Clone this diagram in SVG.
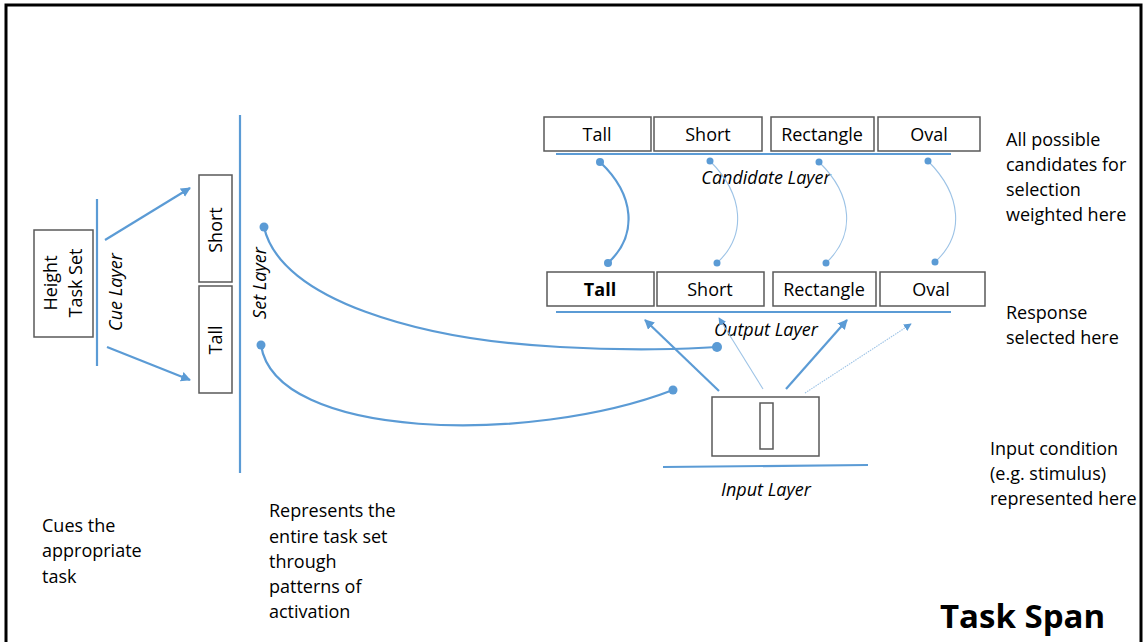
<svg xmlns="http://www.w3.org/2000/svg" width="1144" height="642" viewBox="0 0 1144 642">
<defs>
<style>
.t{font-family:"Open Sans","Noto Sans",sans-serif;font-size:18px;fill:#000}
.i{font-style:italic}
.c{text-anchor:middle}
.b{font-weight:bold}
.title{font-size:33px;font-weight:bold}
.box{fill:#fff;stroke:#595959;stroke-width:1.5}
.ln{stroke:#5B9BD5;stroke-width:2.2;fill:none}
.thin{stroke:#9DC3E6;stroke-width:1.1;fill:none}
.dot{fill:#5B9BD5}
</style>
<marker id="ah" viewBox="0 0 10 10" refX="9" refY="5" markerWidth="7" markerHeight="7" orient="auto" markerUnits="strokeWidth"><path d="M0,0 L10,5 L0,10 z" fill="#5B9BD5"/></marker>
<marker id="ahl" viewBox="0 0 10 10" refX="9" refY="5" markerWidth="4.5" markerHeight="4.5" orient="auto" markerUnits="strokeWidth"><path d="M0,0 L10,5 L0,10 z" fill="#5B9BD5"/></marker>
</defs>
<rect width="1144" height="642" fill="#fff"/>
<path d="M6,650 V5 H1141 V650" fill="none" stroke="#000" stroke-width="3"/>

<g id="height-task-set">
<rect class="box" x="34" y="230" width="59" height="107"/>
<text class="t c" transform="translate(63,283) rotate(-90)" y="-6">Height</text>
<text class="t c" transform="translate(63,283) rotate(-90)" y="19">Task Set</text>
</g>
<g id="cue-layer">
<line class="ln" x1="97" y1="199" x2="97" y2="366"/>
<text class="t i c" transform="translate(122,292) rotate(-90)">Cue Layer</text>
</g>
<g id="set-short">
<rect class="box" x="199" y="175" width="33" height="107"/>
<text class="t c" transform="translate(222,230) rotate(-90)">Short</text>
</g>
<g id="set-tall">
<rect class="box" x="199" y="286" width="33" height="107"/>
<text class="t c" transform="translate(222,340) rotate(-90)">Tall</text>
</g>
<g id="set-layer">
<line class="ln" x1="240" y1="115" x2="240" y2="473"/>
<text class="t i c" transform="translate(266,283) rotate(-90)">Set Layer</text>
</g>

<g id="candidate-layer">
<rect class="box" x="544" y="117" width="107" height="34"/>
<text class="t c" x="597" y="141">Tall</text>
<rect class="box" x="654" y="117" width="108" height="34"/>
<text class="t c" x="708" y="141">Short</text>
<rect class="box" x="771" y="117" width="103" height="34"/>
<text class="t c" x="822" y="141">Rectangle</text>
<rect class="box" x="878" y="117" width="102" height="34"/>
<text class="t c" x="929" y="141">Oval</text>
<line class="ln" x1="556" y1="154" x2="951" y2="154"/>
<text class="t i c" x="766" y="184">Candidate Layer</text>
</g>

<g id="output-layer">
<rect class="box" x="547" y="272" width="107" height="34"/>
<text class="t c b" x="600" y="296">Tall</text>
<rect class="box" x="657" y="272" width="107" height="34"/>
<text class="t c" x="710" y="296">Short</text>
<rect class="box" x="773" y="272" width="103" height="34"/>
<text class="t c" x="824" y="296">Rectangle</text>
<rect class="box" x="880" y="272" width="105" height="34"/>
<text class="t c" x="931" y="296">Oval</text>
<line class="ln" x1="556" y1="312" x2="951" y2="312"/>
<text class="t i c" x="766" y="336">Output Layer</text>
</g>

<g id="input-layer">
<rect class="box" x="712" y="397" width="107" height="59"/>
<rect class="box" x="760" y="403" width="13" height="46"/>
<line class="ln" x1="663" y1="467" x2="868" y2="465"/>
<text class="t i c" x="766" y="496">Input Layer</text>
</g>

<g id="connectors">
<line class="ln" x1="105" y1="240" x2="190" y2="188" marker-end="url(#ahl)"/>
<line class="ln" x1="107" y1="347" x2="190" y2="380" marker-end="url(#ahl)"/>

<path class="ln" d="M264,227 C280,300 420,340 560,347 C630,351 690,349 717,347"/>
<circle class="dot" cx="264" cy="227" r="4.5"/>
<circle class="dot" cx="717" cy="347" r="5"/>
<path class="ln" d="M261,345 C275,440 530,445 673,390"/>
<circle class="dot" cx="261" cy="345" r="4.5"/>
<circle class="dot" cx="673" cy="390" r="4.5"/>

<path class="ln" d="M600,162 C635,195 638,235 608,263"/>
<circle class="dot" cx="600" cy="162" r="4"/>
<circle class="dot" cx="608" cy="263" r="4"/>
<path class="thin" d="M710,161 C744,195 747,235 717,263"/>
<circle class="dot" cx="710" cy="161" r="3.5"/>
<circle class="dot" cx="717" cy="263" r="3.5"/>
<path class="thin" d="M819,162 C853,195 856,235 826,263"/>
<circle class="dot" cx="819" cy="162" r="3.5"/>
<circle class="dot" cx="826" cy="263" r="3.5"/>
<path class="thin" d="M928,161 C962,195 965,235 935,262"/>
<circle class="dot" cx="928" cy="161" r="3.5"/>
<circle class="dot" cx="935" cy="262" r="3.5"/>

<line class="ln" x1="719" y1="391" x2="645" y2="320" marker-end="url(#ahl)"/>
<line class="thin" x1="763" y1="389" x2="719" y2="318" marker-end="url(#ah)"/>
<line class="ln" x1="786" y1="389" x2="847" y2="320" marker-end="url(#ahl)"/>
<line class="thin" x1="805" y1="393" x2="911" y2="324" stroke-dasharray="1.5 1" stroke="#5B9BD5" marker-end="url(#ah)"/>
</g>

<g id="notes">
<text class="t" x="1006" y="146">All possible</text>
<text class="t" x="1006" y="171">candidates for</text>
<text class="t" x="1006" y="196">selection</text>
<text class="t" x="1006" y="221">weighted here</text>
<text class="t" x="1006" y="319">Response</text>
<text class="t" x="1006" y="344">selected here</text>
<text class="t" x="990" y="455">Input condition</text>
<text class="t" x="990" y="480">(e.g. stimulus)</text>
<text class="t" x="990" y="505">represented here</text>
<text class="t" x="42" y="532">Cues the</text>
<text class="t" x="42" y="557">appropriate</text>
<text class="t" x="42" y="583">task</text>
<text class="t" x="269" y="517">Represents the</text>
<text class="t" x="269" y="543">entire task set</text>
<text class="t" x="269" y="568">through</text>
<text class="t" x="269" y="593">patterns of</text>
<text class="t" x="269" y="618">activation</text>
<text class="t title" x="940" y="628">Task Span</text>
</g>
</svg>
